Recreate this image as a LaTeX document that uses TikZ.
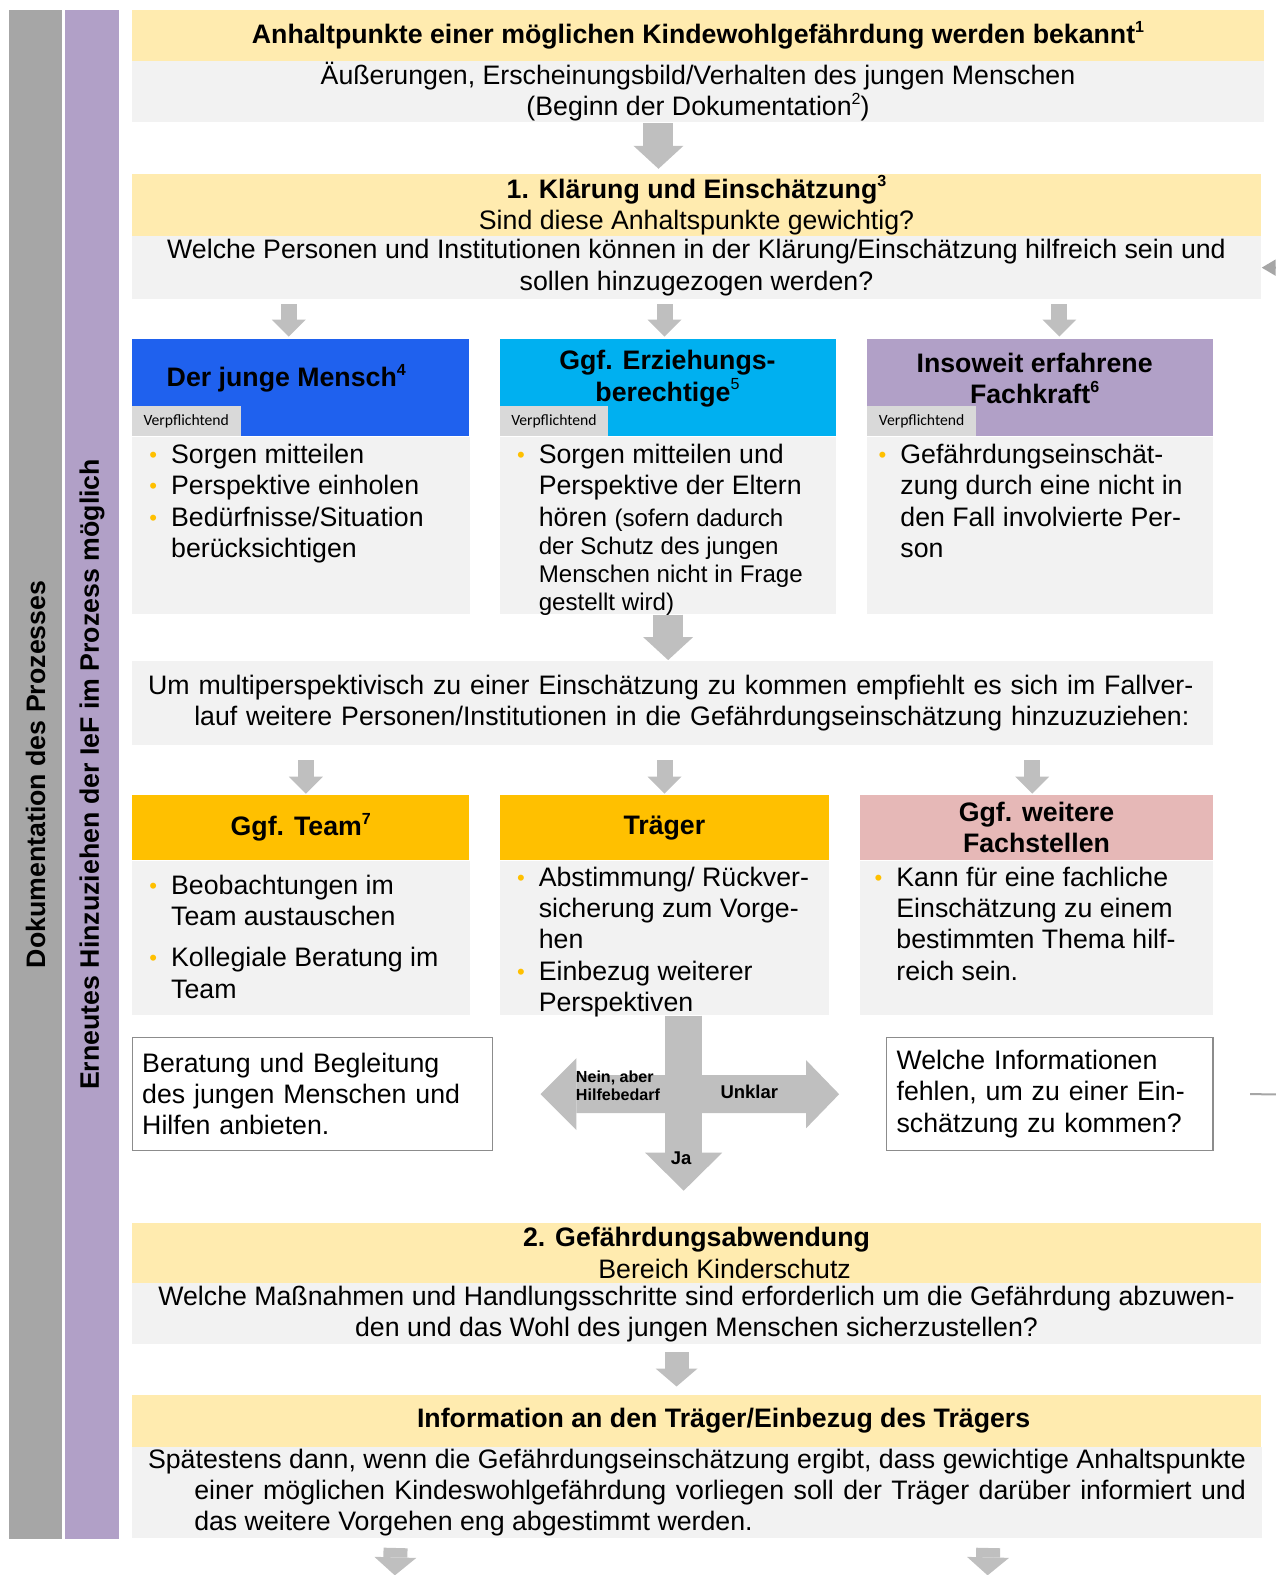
\documentclass[tikz,border=0pt]{standalone}
\usepackage{fontspec}
\setmainfont{Liberation Sans}
\newfontfamily\tabfont{Carlito}
\usetikzlibrary{positioning}
\usetikzlibrary{arrows.meta}

\definecolor{hellgelb}{HTML}{FFEBAF}
\definecolor{hellgrau}{HTML}{F2F2F2}
\definecolor{pfeilgrau}{HTML}{BFBFBF}
\definecolor{balkengrau}{HTML}{A6A6A6}
\definecolor{randgrau}{HTML}{8C8C8C}
\definecolor{tabgrau}{HTML}{D9D9D9}
\definecolor{lila}{HTML}{B1A0C7}
\definecolor{blau}{HTML}{1F61EE}
\definecolor{tuerkis}{HTML}{00B0F0}
\definecolor{gelborange}{HTML}{FFC000}
\definecolor{rosa}{HTML}{E6B8B7}

\newcommand{\grund}{\fontsize{13.3}{15.5}\selectfont}
\newcommand{\klein}{\fontsize{12}{14}\selectfont}
\newcommand{\hoch}[1]{\raisebox{0.42em}{\fontsize{8}{8}\selectfont #1}}
\newcommand{\pkt}{\llap{\raisebox{0.5pt}{\color{gelborange}\fontsize{11}{11}\selectfont\textbullet}\hspace{7pt}}}

\tikzset{
  gelb/.style={anchor=north west, fill=hellgelb, inner sep=0pt, align=center},
  grau/.style={anchor=north west, fill=hellgrau, inner sep=0pt, align=center},
  kopf/.style={anchor=north west, minimum height=48.5pt, inner sep=0pt},
  kopf2/.style={anchor=north west, minimum height=32.5pt, inner sep=0pt, align=center, font=\grund\bfseries},
  titel/.style={align=center, inner sep=0pt, font=\grund\bfseries},
  pflicht/.style={anchor=south west, fill=tabgrau, minimum width=54pt, minimum height=15pt, inner sep=0pt, font=\tabfont\fontsize{7.8}{8}\selectfont},
  koerper/.style={anchor=north west, fill=hellgrau, inner sep=0pt},
  liste/.style={anchor=north west, align=left, inner sep=0pt},
  weiss/.style={anchor=north west, fill=white, draw=randgrau, line width=0.6pt, inner xsep=5pt, inner ysep=0pt, align=left, minimum height=56.5pt},
  balken/.style={rotate=90, minimum width=761pt, minimum height=26.5pt, inner sep=0pt, font=\grund\bfseries},
  grosspfeil/.style={draw=pfeilgrau, line width=15pt, -{Triangle[length=11.5pt, width=25pt, line width=0pt]}},
  mittelpfeil/.style={draw=pfeilgrau, line width=12pt, -{Triangle[length=9pt, width=21pt, line width=0pt]}},
  kleinpfeil/.style={draw=pfeilgrau, line width=8pt, -{Triangle[length=8.5pt, width=17pt, line width=0pt]}},
  rueckpfeil/.style={draw=balkengrau, line width=1pt, -{Triangle[length=7pt, width=8pt]}}
}

\begin{document}
\begin{tikzpicture}[x=0.5pt, y=-0.5pt, scale=1.00472, every node/.append style={transform shape}, font=\grund]

  \useasboundingbox (0,0) rectangle (1270,1568);

  % Balken links
  \node at (35.5,771) (doku) [balken, fill=balkengrau] {Dokumentation des Prozesses};
  \node at (91.5,771) (hinzu) [balken, fill=lila] {Erneutes Hinzuziehen der IeF im Prozess möglich};

  % Anlass
  \node at (131,10) (anlass) [gelb, minimum width=563.5pt, minimum height=25pt] {\textbf{Anhaltpunkte einer möglichen Kindewohlgefährdung werden bekannt\hoch{1}}};
  \node at (131,60) (anlassQ) [grau, minimum width=563.5pt, minimum height=30.5pt] {Äußerungen, Erscheinungsbild/Verhalten des jungen Menschen\\(Beginn der Dokumentation\hoch{2})};

  % 1. Klaerung
  \node at (131,173) (klaer) [gelb, minimum width=562pt, minimum height=31pt] {\textbf{1. Klärung und Einschätzung\hoch{3}}\\Sind diese Anhaltspunkte gewichtig?};
  \node at (131,235) (klaerQ) [grau, minimum width=562pt, minimum height=31pt] {Welche Personen und Institutionen können in der Klärung/Einschätzung hilfreich sein und\\sollen hinzugezogen werden?};

  % Verpflichtende Beteiligte
  \node at (131,337) (mensch) [kopf, fill=blau, minimum width=168pt] {};
  \node at (285,376.5) (menschT) [titel] {Der junge Mensch\hoch{4}};
  \node at (mensch.south west) (menschB) [koerper, minimum width=168pt, minimum height=88pt] {};
  \node at (mensch.south west) (menschV) [pflicht] {Verpflichtend};
  \node at (170,442) (menschL) [liste] {\pkt Sorgen mitteilen\\ \pkt Perspektive einholen\\ \pkt Bedürfnisse/Situation\\ berücksichtigen};

  \node at (497,337) (eltern) [kopf, fill=tuerkis, minimum width=167.5pt] {};
  \node at (664.5,377) (elternT) [titel] {Ggf. Erziehungs-\\berechtige\hoch{\mdseries 5}};
  \node at (eltern.south west) (elternB) [koerper, minimum width=167.5pt, minimum height=88pt] {};
  \node at (eltern.south west) (elternV) [pflicht] {Verpflichtend};
  \node at (536,442) (elternL) [liste] {\pkt Sorgen mitteilen und\\ Perspektive der Eltern\\ hören {\klein (sofern dadurch}\\[-1.5pt] {\klein der Schutz des jungen}\\[-1.5pt] {\klein Menschen nicht in Frage}\\[-1.5pt] {\klein gestellt wird)}};

  \node at (863,337) (fachkraft) [kopf, fill=lila, minimum width=172pt] {};
  \node at (1030,377) (fachkraftT) [titel] {Insoweit erfahrene\\Fachkraft\hoch{6}};
  \node at (fachkraft.south west) (fachkraftB) [koerper, minimum width=172pt, minimum height=88pt] {};
  \node at (fachkraft.south west) (fachkraftV) [pflicht] {Verpflichtend};
  \node at (896,442) (fachkraftL) [liste] {\pkt Gefährdungseinschät-\\ zung durch eine nicht in\\ den Fall involvierte Per-\\ son};

  % Weitere Perspektiven
  \node at (131,658) (multi) [grau, minimum width=538pt, minimum height=41.5pt, text width=522pt, inner xsep=8pt, align=left] {Um multiperspektivisch zu einer Einschätzung zu kommen empfiehlt es sich im Fallver-\\\hspace*{23pt}lauf weitere Personen/Institutionen in die Gefährdungseinschätzung hinzuzuziehen:};

  \node at (131,791) (team) [kopf2, fill=gelborange, minimum width=168pt] {Ggf. Team\hoch{7}};
  \node at (team.south west) (teamB) [koerper, minimum width=168pt, minimum height=76.5pt] {};
  \node at (170,871) (teamL) [liste] {\pkt Beobachtungen im\\ Team austauschen\\[5pt] \pkt Kollegiale Beratung im\\ Team};

  \node at (497,791) (traeger) [kopf2, fill=gelborange, minimum width=164pt] {Träger};
  \node at (traeger.south west) (traegerB) [koerper, minimum width=164pt, minimum height=76.5pt] {};
  \node at (536,863) (traegerL) [liste] {\pkt Abstimmung/ Rückver-\\ sicherung zum Vorge-\\ hen\\ \pkt Einbezug weiterer\\ Perspektiven};

  \node at (856,791) (fachstellen) [kopf2, fill=rosa, minimum width=175.5pt] {Ggf. weitere\\Fachstellen};
  \node at (fachstellen.south west) (fachstellenB) [koerper, minimum width=175.5pt, minimum height=76.5pt] {};
  \node at (892,863) (fachstellenL) [liste] {\pkt Kann für eine fachliche\\ Einschätzung zu einem\\ bestimmten Thema hilf-\\ reich sein.};

  % Ergebnis
  \node at (131,1032) (beratung) [weiss, minimum width=179.5pt, text width=169.5pt] {Beratung und Begleitung\\des jungen Menschen und\\Hilfen anbieten.};
  \node at (882,1032) (info) [weiss, minimum width=162.5pt, text width=152.5pt] {Welche Informationen\\fehlen, um zu einer Ein-\\schätzung zu kommen?};

  % 2. Gefaehrdungsabwendung
  \node at (131,1217) (abwendung) [gelb, minimum width=562pt, minimum height=30pt] {\textbf{2. Gefährdungsabwendung}\\\hspace*{28pt}Bereich Kinderschutz};
  \node at (131,1277) (abwendungQ) [grau, minimum width=562pt, minimum height=30.5pt] {Welche Maßnahmen und Handlungsschritte sind erforderlich um die Gefährdung abzuwen-\\den und das Wohl des jungen Menschen sicherzustellen?};

  \node at (131,1388) (traegerinfo) [gelb, minimum width=562pt, minimum height=26pt] {\hspace*{27pt}\textbf{Information an den Träger/Einbezug des Trägers}};
  \node at (131,1440) (traegerinfoQ) [grau, minimum width=562.5pt, minimum height=45.5pt, text width=546.5pt, inner xsep=8pt, align=justify] {Spätestens dann, wenn die Gefährdungseinschätzung ergibt, dass gewichtige Anhaltspunkte\linebreak\hspace*{23pt}einer möglichen Kindeswohlgefährdung vorliegen soll der Träger darüber informiert und\linebreak\hspace*{23pt}das weitere Vorgehen eng abgestimmt werden.};

  \coordinate (weiterL) at (393,1568);
  \coordinate (weiterR) at (983,1568);
  \coordinate (rueck) at ([xshift=60pt]info.east);

  % Arrows
  \draw[grosspfeil, shorten <=0.5pt, shorten >=2.5pt] ([xshift=-19.75pt]anlassQ.south) -- ([xshift=-19.75pt]anlassQ.south |- klaer.north);
  \draw[kleinpfeil, shorten <=2.5pt, shorten >=1pt] ([xshift=-6pt]mensch.north |- klaerQ.south) -- ([xshift=-6pt]mensch.north);
  \draw[kleinpfeil, shorten <=2.5pt, shorten >=1pt] ([xshift=-1.75pt]eltern.north |- klaerQ.south) -- ([xshift=-1.75pt]eltern.north);
  \draw[kleinpfeil, shorten <=2.5pt, shorten >=1pt] ([xshift=9.5pt]fachkraft.north |- klaerQ.south) -- ([xshift=9.5pt]fachkraft.north);
  \draw[grosspfeil, shorten >=0.5pt] (elternB.south) -- (elternB.south |- multi.north);
  \draw[kleinpfeil, shorten <=7.5pt, shorten >=0.5pt] ([xshift=2.5pt]team.north |- multi.south) -- ([xshift=2.5pt]team.north);
  \draw[kleinpfeil, shorten <=7.5pt, shorten >=0.5pt] (traeger.north |- multi.south) -- (traeger.north);
  \draw[kleinpfeil, shorten <=7.5pt, shorten >=0.5pt] ([xshift=-2.25pt]fachstellen.north |- multi.south) -- ([xshift=-2.25pt]fachstellen.north);

  % Entscheidung
  \draw[draw=pfeilgrau, line width=19pt, {Triangle[length=18pt, width=36pt, line width=0pt]}-{Triangle[length=16.5pt, width=34pt, line width=0pt]}, shorten <=23.5pt, shorten >=23.5pt] (beratung.east) -- (info.west);
  \draw[draw=pfeilgrau, line width=18.5pt, -{Triangle[length=19pt, width=38.5pt, line width=0pt]}, shorten >=16pt] ([xshift=9.5pt]traegerB.south) -- ([xshift=9.5pt]traegerB.south |- abwendung.north);
  \node at (573,1081) (nein) [anchor=west, align=left, inner sep=0pt, font=\fontsize{8}{9}\selectfont\bfseries] {Nein, aber\\Hilfebedarf};
  \node at (746,1087) (unklar) [inner sep=0pt, font=\fontsize{9.2}{10}\selectfont\bfseries] {Unklar};
  \node at (678,1153) (ja) [inner sep=0pt, font=\fontsize{9.2}{10}\selectfont\bfseries] {Ja};

  \draw[mittelpfeil, shorten <=3.5pt, shorten >=4pt] ([xshift=-10pt]abwendungQ.south) -- ([xshift=-10pt]abwendungQ.south |- traegerinfo.north);
  \draw[mittelpfeil, shorten <=4.5pt] ([xshift=-150pt]traegerinfoQ.south) -- (weiterL);
  \draw[mittelpfeil, shorten <=4.5pt] ([xshift=145pt]traegerinfoQ.south) -- (weiterR);

  % Rueckkopplung
  \draw[rueckpfeil] ([xshift=18pt]info.east) -- (rueck) |- (klaerQ.east);

\end{tikzpicture}
\end{document}
